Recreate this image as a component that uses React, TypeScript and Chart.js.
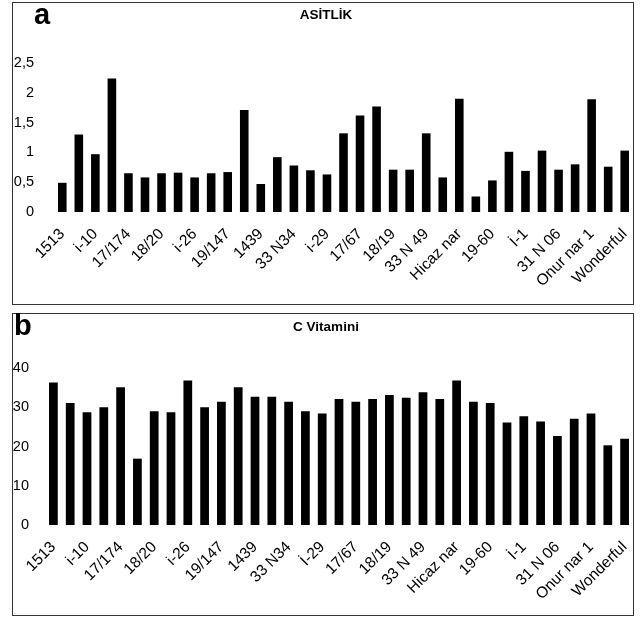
import React, { useEffect, useRef } from "react";
import { Chart, registerables } from "chart.js";

Chart.register(...registerables);

// Tick labels shown on the x axis (every second genotype is labelled)
const shownLabelsA = ["1513", "i-10", "17/174", "18/20", "i-26", "19/147", "1439", "33 N34", "i-29", "17/67", "18/19", "33 N 49", "Hicaz nar", "19-60", "İ-1", "31 N 06", "Onur nar 1", "Wonderful"];
const shownLabelsB = ["1513", "i-10", "17/174", "18/20", "i-26", "19/147", "1439", "33 N34", "İ-29", "17/67", "18/19", "33 N 49", "Hicaz nar", "19-60", "İ-1", "31 N 06", "Onur nar 1", "Wonderful"];

// Series values (35 genotypes)
const acidity = [0.49, 1.3, 0.97, 2.24, 0.65, 0.58, 0.65, 0.66, 0.58, 0.65, 0.67, 1.71, 0.47, 0.92, 0.78, 0.7, 0.63, 1.32, 1.62, 1.77, 0.71, 0.71, 1.32, 0.58, 1.9, 0.26, 0.53, 1.01, 0.69, 1.03, 0.71, 0.8, 1.89, 0.76, 1.03];
const vitaminC = [36.3, 31.1, 28.7, 30.0, 35.1, 16.9, 29.0, 28.7, 36.8, 30.0, 31.4, 35.1, 32.7, 32.7, 31.4, 29.0, 28.4, 32.1, 31.4, 32.1, 33.1, 32.4, 33.8, 32.1, 36.8, 31.4, 31.1, 26.1, 27.7, 26.4, 22.7, 27.1, 28.4, 20.3, 22.0];

function buildCategories(shown: string[], n: number): string[] {
  const out: string[] = [];
  for (let i = 0; i < n; i++) out.push(i % 2 === 0 ? shown[i / 2] ?? "" : "");
  return out;
}

const FONT = "'Liberation Sans', Arial, sans-serif";

type PanelProps = {
  top: number;
  letter: string;
  letterLeft: number;
  title: string;
  titleTop: number;
  values: number[];
  shown: string[];
  yMax: number;
  yStep: number;
  yWidth: number;
  yPad: number;
  padTop: number;
  xHeight: number;
  xPad: number;
};

function Panel(p: PanelProps) {
  const ref = useRef<HTMLCanvasElement | null>(null);
  useEffect(() => {
    if (!ref.current) return;
    const cats = buildCategories(p.shown, p.values.length);
    const chart = new Chart(ref.current, {
      type: "bar",
      data: {
        labels: cats,
        datasets: [
          {
            data: p.values,
            backgroundColor: "#000",
            borderWidth: 0,
            barPercentage: 0.52,
            categoryPercentage: 1,
          },
        ],
      },
      options: {
        responsive: false,
        animation: false,
        layout: { padding: { top: p.padTop, left: 0, right: 0, bottom: 0 } },
        plugins: { legend: { display: false }, tooltip: { enabled: false }, title: { display: false } },
        scales: {
          x: {
            grid: { display: false, drawTicks: false },
            border: { display: false },
            ticks: {
              autoSkip: false,
              maxRotation: 45,
              minRotation: 45,
              padding: p.xPad,
              color: "#000",
              font: { family: FONT, size: 15.5 },
            },
            afterFit: (s: any) => {
              s.height = p.xHeight;
              s.paddingLeft = 0;
              s.paddingRight = 0;
            },
          },
          y: {
            min: 0,
            max: p.yMax,
            grid: { display: false, drawTicks: false },
            border: { display: false },
            ticks: {
              stepSize: p.yStep,
              padding: p.yPad,
              color: "#000",
              font: { family: FONT, size: 14.5 },
              callback: (v: any) => String(v).replace(".", ","),
            },
            afterFit: (s: any) => {
              s.width = p.yWidth;
            },
          },
        },
      },
    });
    return () => chart.destroy();
  }, []);

  return (
    <div
      style={{
        position: "absolute",
        left: 12,
        top: p.top,
        width: 622,
        height: 303,
        boxSizing: "border-box",
        border: "1px solid #333",
        background: "#fff",
      }}
    >
      <canvas ref={ref} width={620} height={301} style={{ position: "absolute", left: 0, top: 0 }} />
      <div
        style={{
          position: "absolute",
          left: p.letterLeft,
          top: -6,
          fontFamily: FONT,
          fontWeight: "bold",
          fontSize: 29,
          lineHeight: "34px",
          color: "#000",
        }}
      >
        {p.letter}
      </div>
      <div
        style={{
          position: "absolute",
          left: 0,
          width: 620,
          top: p.titleTop,
          textAlign: "center",
          fontFamily: FONT,
          fontWeight: "bold",
          fontSize: 13.5,
          lineHeight: "16px",
          color: "#000",
          paddingLeft: 6,
          boxSizing: "border-box",
        }}
      >
        {p.title}
      </div>
    </div>
  );
}

export default function App() {
  return (
    <div style={{ position: "absolute", left: 0, top: 0, width: 644, height: 621, background: "#fff" }}>
      <Panel
        top={2}
        letter="a"
        letterLeft={21}
        title="ASİTLİK"
        titleTop={4}
        values={acidity}
        shown={shownLabelsA}
        yMax={2.5}
        yStep={0.5}
        yWidth={41}
        yPad={20}
        padTop={60}
        xHeight={92}
        xPad={13}
      />
      <Panel
        top={313}
        letter="b"
        letterLeft={1}
        title="C Vitamini"
        titleTop={5}
        values={vitaminC}
        shown={shownLabelsB}
        yMax={40}
        yStep={10}
        yWidth={32}
        yPad={16}
        padTop={54}
        xHeight={90}
        xPad={13}
      />
    </div>
  );
}
